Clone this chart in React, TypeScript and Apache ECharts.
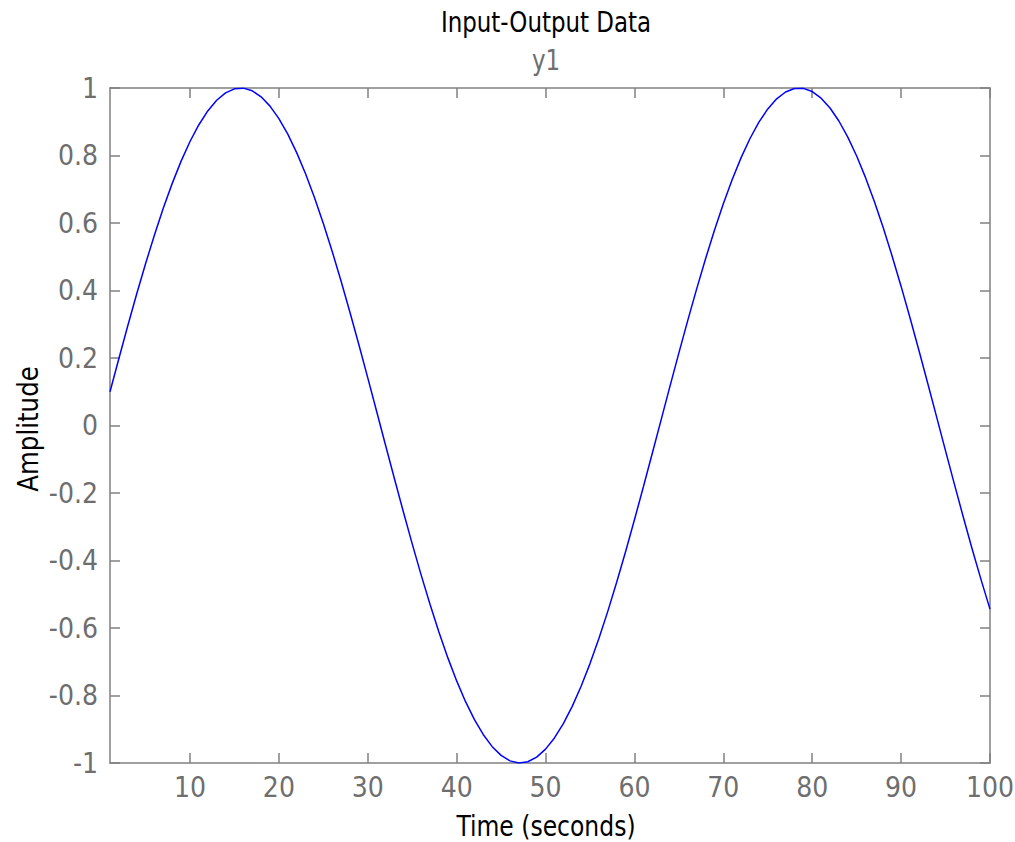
import React, { useEffect, useRef } from "react";
import * as echarts from "echarts";

const titleText = "Input-Output Data";
const subtitleText = "y1";
const xAxisName = "Time (seconds)";
const yAxisName = "Amplitude";

const timeValues: number[] = [
  1, 2, 3, 4, 5, 6, 7, 8, 9, 10, 11, 12, 13, 14, 15, 16, 17, 18, 19, 20,
  21, 22, 23, 24, 25, 26, 27, 28, 29, 30, 31, 32, 33, 34, 35, 36, 37, 38, 39, 40,
  41, 42, 43, 44, 45, 46, 47, 48, 49, 50, 51, 52, 53, 54, 55, 56, 57, 58, 59, 60,
  61, 62, 63, 64, 65, 66, 67, 68, 69, 70, 71, 72, 73, 74, 75, 76, 77, 78, 79, 80,
  81, 82, 83, 84, 85, 86, 87, 88, 89, 90, 91, 92, 93, 94, 95, 96, 97, 98, 99, 100,
];

const amplitudeValues: number[] = [
  0.0998, 0.1987, 0.2955, 0.3894, 0.4794, 0.5646, 0.6442, 0.7174, 0.7833, 0.8415,
  0.8912, 0.932, 0.9636, 0.9854, 0.9975, 0.9996, 0.9917, 0.9738, 0.9463, 0.9093,
  0.8632, 0.8085, 0.7457, 0.6755, 0.5985, 0.5155, 0.4274, 0.335, 0.2392, 0.1411,
  0.0416, -0.0584, -0.1577, -0.2555, -0.3508, -0.4425, -0.5298, -0.6119, -0.6878, -0.7568,
  -0.8183, -0.8716, -0.9162, -0.9516, -0.9775, -0.9937, -0.9999, -0.9962, -0.9825, -0.9589,
  -0.9258, -0.8835, -0.8323, -0.7728, -0.7055, -0.6313, -0.5507, -0.4646, -0.3739, -0.2794,
  -0.1822, -0.0831, 0.0168, 0.1165, 0.2151, 0.3115, 0.4048, 0.4941, 0.5784, 0.657,
  0.729, 0.7937, 0.8504, 0.8987, 0.938, 0.9679, 0.9882, 0.9985, 0.9989, 0.9894,
  0.9699, 0.9407, 0.9022, 0.8546, 0.7985, 0.7344, 0.663, 0.5849, 0.501, 0.4121,
  0.3191, 0.2229, 0.1245, 0.0248, -0.0752, -0.1743, -0.2718, -0.3665, -0.4575, -0.544,
];

const xTickValues: number[] = [10, 20, 30, 40, 50, 60, 70, 80, 90, 100];

const FONT = "'DejaVu Sans Condensed', 'Liberation Sans', sans-serif";
const AXIS_GRAY = "#808080";
const LABEL_GRAY = "#6e6e6e";

export default function App() {
  const ref = useRef<HTMLDivElement>(null);

  useEffect(() => {
    document.body.style.margin = "0";
    if (!ref.current) return;
    const chart = echarts.init(ref.current, null, { renderer: "svg" });
    const axisLine = { show: true, onZero: false, lineStyle: { color: AXIS_GRAY, width: 1.5 } };
    const tickStyle = { color: AXIS_GRAY, width: 1.5 };
    chart.setOption({
      animation: false,
      backgroundColor: "#ffffff",
      grid: { left: 110, right: 25, top: 88, bottom: 79, containLabel: false, outerBoundsMode: "none" },
      graphic: [
        {
          type: "text",
          x: 546,
          y: 22,
          scaleX: 0.88,
          style: { text: titleText, font: `29px ${FONT}`, fill: "#000000", align: "center", verticalAlign: "middle" },
        },
        {
          type: "text",
          x: 546,
          y: 60,
          scaleX: 0.88,
          style: { text: subtitleText, font: `29px ${FONT}`, fill: LABEL_GRAY, align: "center", verticalAlign: "middle" },
        },
        {
          type: "text",
          x: 546,
          y: 826,
          scaleX: 0.9,
          style: { text: xAxisName, font: `29px ${FONT}`, fill: "#000000", align: "center", verticalAlign: "middle" },
        },
        {
          type: "text",
          x: 28,
          y: 429,
          rotation: Math.PI / 2,
          scaleX: 0.94,
          style: { text: yAxisName, font: `29px ${FONT}`, fill: "#000000", align: "center", verticalAlign: "middle" },
        },
      ],
      xAxis: [
        {
          type: "value",
          min: 1,
          max: 100,
          position: "bottom",
          axisLine,
          axisTick: { show: true, inside: true, length: 10, lineStyle: tickStyle, customValues: xTickValues },
          axisLabel: {
            show: true,
            customValues: xTickValues,
            color: LABEL_GRAY,
            fontFamily: FONT,
            fontSize: 28,
            margin: 10,
          },
          splitLine: { show: false },
        },
        {
          type: "value",
          min: 1,
          max: 100,
          position: "top",
          axisLine,
          axisTick: { show: true, inside: true, length: 10, lineStyle: tickStyle, customValues: xTickValues },
          axisLabel: { show: false },
          splitLine: { show: false },
        },
      ],
      yAxis: [
        {
          type: "value",
          min: -1,
          max: 1,
          interval: 0.2,
          position: "left",
          axisLine,
          axisTick: { show: true, inside: true, length: 10, lineStyle: tickStyle },
          axisLabel: {
            show: true,
            color: LABEL_GRAY,
            fontFamily: FONT,
            fontSize: 28,
            margin: 12,
          },
          splitLine: { show: false },
        },
        {
          type: "value",
          min: -1,
          max: 1,
          interval: 0.2,
          position: "right",
          axisLine,
          axisTick: { show: true, inside: true, length: 10, lineStyle: tickStyle },
          axisLabel: { show: false },
          splitLine: { show: false },
        },
      ],
      series: [
        {
          type: "line",
          xAxisIndex: 0,
          yAxisIndex: 0,
          data: timeValues.map((t, i) => [t, amplitudeValues[i]]),
          showSymbol: false,
          symbol: "none",
          lineStyle: { color: "#0000ff", width: 1.5 },
          itemStyle: { color: "#0000ff" },
        },
      ],
    });
    return () => chart.dispose();
  }, []);

  return (
    <div
      ref={ref}
      style={{ position: "absolute", left: 0, top: 0, width: 1015, height: 842, background: "#fff" }}
    />
  );
}
